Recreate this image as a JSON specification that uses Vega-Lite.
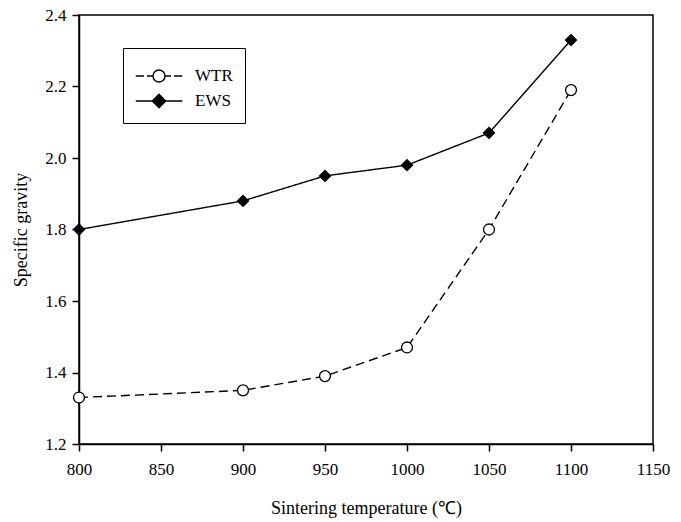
{
  "$schema": "https://vega.github.io/schema/vega-lite/v6.json",
  "width": 574,
  "height": 429,
  "autosize": {"type": "none"},
  "padding": {"left": 79, "top": 15, "right": 28, "bottom": 78},
  "background": "white",
  "config": {
    "view": {"stroke": "black", "strokeWidth": 1.5},
    "font": "Liberation Serif"
  },
  "data": {
    "values": [
      {"temp": 800, "sg": 1.33, "series": "WTR"},
      {"temp": 900, "sg": 1.35, "series": "WTR"},
      {"temp": 950, "sg": 1.39, "series": "WTR"},
      {"temp": 1000, "sg": 1.47, "series": "WTR"},
      {"temp": 1050, "sg": 1.80, "series": "WTR"},
      {"temp": 1100, "sg": 2.19, "series": "WTR"},
      {"temp": 800, "sg": 1.80, "series": "EWS"},
      {"temp": 900, "sg": 1.88, "series": "EWS"},
      {"temp": 950, "sg": 1.95, "series": "EWS"},
      {"temp": 1000, "sg": 1.98, "series": "EWS"},
      {"temp": 1050, "sg": 2.07, "series": "EWS"},
      {"temp": 1100, "sg": 2.33, "series": "EWS"}
    ]
  },
  "encoding": {
    "x": {
      "field": "temp", "type": "quantitative",
      "scale": {"domain": [800, 1150], "nice": false, "zero": false},
      "axis": {
        "title": "Sintering temperature (℃)",
        "values": [800, 850, 900, 950, 1000, 1050, 1100, 1150],
        "format": "d",
        "labelFlush": false,
        "grid": false, "domainColor": "black", "domainWidth": 1.5,
        "tickColor": "black", "tickSize": 7, "tickWidth": 1.5,
        "labelFont": "Liberation Serif", "labelFontSize": 17, "labelColor": "black",
        "labelPadding": 10,
        "titleFont": "Liberation Serif", "titleFontSize": 18, "titleFontWeight": "normal",
        "titleColor": "black", "titlePadding": 22
      }
    },
    "y": {
      "field": "sg", "type": "quantitative",
      "scale": {"domain": [1.2, 2.4], "nice": false, "zero": false},
      "axis": {
        "title": "Specific gravity",
        "values": [1.2, 1.4, 1.6, 1.8, 2.0, 2.2, 2.4],
        "format": ".1f",
        "labelFlush": false,
        "grid": false, "domainColor": "black", "domainWidth": 1.5,
        "tickColor": "black", "tickSize": 7, "tickWidth": 1.5,
        "labelFont": "Liberation Serif", "labelFontSize": 17, "labelColor": "black",
        "labelPadding": 6,
        "titleFont": "Liberation Serif", "titleFontSize": 18, "titleFontWeight": "normal",
        "titleColor": "black", "titlePadding": 14
      }
    }
  },
  "layer": [
    {
      "mark": {"type": "line", "color": "black", "strokeWidth": 1.4},
      "encoding": {
        "detail": {"field": "series"},
        "strokeDash": {
          "condition": {"test": "datum.series === 'WTR'", "value": [9, 5]},
          "value": [1, 0]
        }
      }
    },
    {
      "mark": {"type": "point", "filled": true, "stroke": "black", "strokeWidth": 1.3, "opacity": 1, "size": 120},
      "encoding": {
        "shape": {
          "condition": {"test": "datum.series === 'EWS'", "value": "diamond"},
          "value": "circle"
        },
        "fill": {
          "condition": {"test": "datum.series === 'EWS'", "value": "black"},
          "value": "white"
        }
      }
    },
    {
      "mark": {"type": "point", "filled": true, "strokeWidth": 1.4, "opacity": 0, "size": 900},
      "encoding": {
        "shape": {
          "field": "series", "type": "nominal",
          "scale": {
            "domain": ["WTR", "EWS"],
            "range": [
              "M-1.55,0L-1.0,0M-0.8,0L-0.4,0M0.4,0L0.8,0M1.0,0L1.55,0M0.4,0A0.4,0.4 0 1,1 -0.4,0A0.4,0.4 0 1,1 0.4,0",
              "M-1.55,0L1.55,0M0,-0.45L0.45,0L0,0.45L-0.45,0Z"
            ]
          },
          "legend": {
            "title": null,
            "orient": "none",
            "legendX": 44,
            "legendY": 33,
            "strokeColor": "black",
            "padding": 12,
            "symbolSize": 900,
            "symbolOffset": 8,
            "symbolOpacity": 1,
            "symbolStrokeWidth": 1.4,
            "labelFont": "Liberation Serif",
            "labelFontSize": 17,
            "labelColor": "black",
            "labelOffset": 20,
            "rowPadding": 0
          }
        },
        "fill": {
          "field": "series", "type": "nominal",
          "scale": {"domain": ["WTR", "EWS"], "range": ["white", "black"]}
        },
        "stroke": {
          "field": "series", "type": "nominal",
          "scale": {"domain": ["WTR", "EWS"], "range": ["black", "black"]}
        }
      }
    }
  ]
}
